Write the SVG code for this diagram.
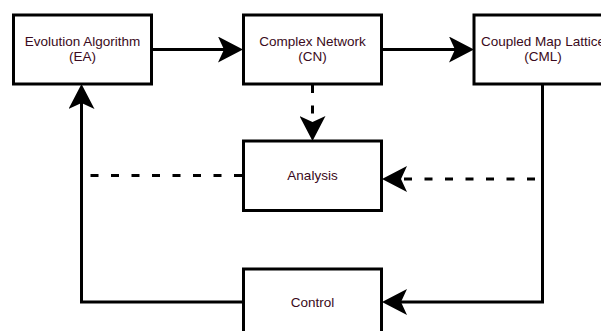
<svg xmlns="http://www.w3.org/2000/svg" width="601" height="331" viewBox="0 0 601 331">
<style>
.box{fill:#fff;stroke:#000;stroke-width:3}
.lbl{font-family:"Liberation Sans",Arial,Helvetica,sans-serif;font-size:13.5px;fill:#3a0a20;text-anchor:middle}
.edge{fill:none;stroke:#000;stroke-width:3}
.dash{stroke-dasharray:8 12.5}
</style>
<defs>
<marker id="arr" markerUnits="userSpaceOnUse" viewBox="0 0 25 26" markerWidth="25" markerHeight="26" refX="6" refY="13" orient="auto">
<path d="M25,13 L0,0 L6,13 L0,26 Z" fill="#000"/>
</marker>
</defs>
<rect width="601" height="331" fill="#fff"/>
<g id="connectors">
<path class="edge" d="M151.5,49.5 H224" marker-end="url(#arr)"/>
<path class="edge" d="M381.5,49.5 H455" marker-end="url(#arr)"/>
<path class="edge dash" d="M312.5,85 V122" marker-end="url(#arr)"/>
<path class="edge dash" d="M242,175.5 H82"/>
<path class="edge dash" d="M535,179 H401" marker-end="url(#arr)"/>
<path class="edge" d="M542.5,84 V302 H401" marker-end="url(#arr)"/>
<path class="edge" d="M243.5,302 H81.5 V103" marker-end="url(#arr)"/>
</g>
<g id="ea">
<rect class="box" x="13.5" y="15" width="138" height="69"/>
<text class="lbl" x="82.5" y="45.5">Evolution Algorithm</text>
<text class="lbl" x="82.5" y="61">(EA)</text>
</g>
<g id="cn">
<rect class="box" x="243.5" y="15" width="138" height="69"/>
<text class="lbl" x="312.5" y="45.5">Complex Network</text>
<text class="lbl" x="312.5" y="61">(CN)</text>
</g>
<g id="cml">
<rect class="box" x="474" y="15" width="138" height="69"/>
<text class="lbl" x="543" y="45.5">Coupled Map Lattice</text>
<text class="lbl" x="543" y="61">(CML)</text>
</g>
<g id="analysis">
<rect class="box" x="243.5" y="141" width="138" height="69.5"/>
<text class="lbl" x="312.5" y="180">Analysis</text>
</g>
<g id="control">
<rect class="box" x="243.5" y="269" width="138" height="69"/>
<text class="lbl" x="312.5" y="307">Control</text>
</g>
</svg>
